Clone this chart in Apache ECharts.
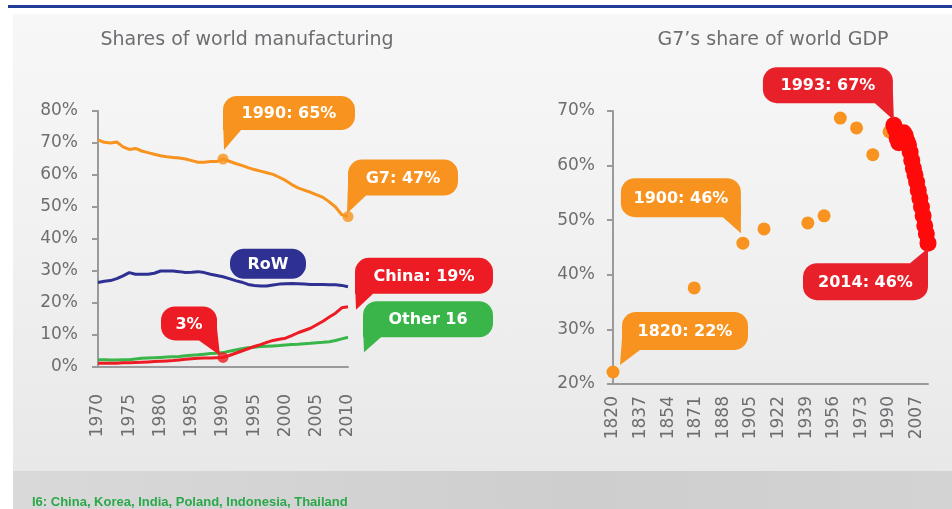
<!DOCTYPE html>
<html><head><meta charset="utf-8">
<script src="https://cdn.jsdelivr.net/npm/echarts@6/dist/echarts.min.js"></script>
<style>
html,body{margin:0;padding:0;background:#fff;}
#wrap{position:relative;width:952px;height:509px;overflow:hidden;background:#fff;}
#topline{position:absolute;left:8px;top:5px;width:944px;height:3px;background:#1f3d96;}
#panel{position:absolute;left:13px;top:14px;right:0;height:457px;background:linear-gradient(to bottom,#f7f7f7 0%,#f1f1f1 50%,#e8e8e8 100%);}
#band{position:absolute;left:13px;top:471px;right:0;bottom:0;background:linear-gradient(to right,#d9d9d9,#cecece 60%,#d3d3d3);}
#c{position:absolute;left:0;top:0;width:952px;height:509px;}
</style>
</head><body>
<div id="wrap"><div id="topline"></div><div id="panel"></div><div id="band"></div><div id="c"></div></div>
<script>
// ---- Data: shares of world manufacturing (%) ----
const mfgYears = [1970,1971,1972,1973,1974,1975,1976,1977,1978,1979,1980,1981,1982,1983,1984,1985,1986,1987,1988,1989,1990,1991,1992,1993,1994,1995,1996,1997,1998,1999,2000,2001,2002,2003,2004,2005,2006,2007,2008,2009,2010];
const g7Share = [71.0,70.2,70.0,70.3,68.8,68.0,68.3,67.5,67.0,66.5,66.0,65.7,65.5,65.3,65.0,64.5,64.0,64.0,64.2,64.2,65.0,64.3,63.6,63.0,62.3,61.7,61.2,60.7,60.2,59.3,58.3,57.0,56.0,55.3,54.6,53.8,53.0,51.6,50.0,47.6,47.0];
const rowShare = [26.4,26.8,27.0,27.6,28.5,29.5,29.0,29.0,29.0,29.3,30.0,30.0,30.0,29.8,29.5,29.6,29.8,29.5,29.0,28.6,28.2,27.6,27.0,26.5,25.8,25.5,25.3,25.3,25.6,25.9,26.0,26.1,26.0,25.9,25.8,25.8,25.8,25.7,25.7,25.5,25.1];
const chinaShare = [1.2,1.2,1.2,1.2,1.3,1.3,1.4,1.5,1.6,1.7,1.8,1.9,2.0,2.2,2.4,2.6,2.7,2.8,2.8,2.9,3.0,3.6,4.3,5.0,5.7,6.4,7.0,7.7,8.3,8.7,9.0,9.8,10.7,11.4,12.1,13.2,14.3,15.6,16.8,18.5,18.8];
const other16Share = [2.3,2.3,2.2,2.2,2.3,2.3,2.5,2.7,2.8,2.9,3.0,3.1,3.2,3.3,3.5,3.7,3.8,4.0,4.2,4.3,4.5,4.9,5.3,5.7,6.0,6.2,6.4,6.5,6.6,6.7,6.9,7.0,7.1,7.3,7.4,7.6,7.7,7.9,8.3,8.8,9.3];
const mfgYTicks = [0,10,20,30,40,50,60,70,80];

// ---- Data: G7 share of world GDP (%) ----
const gdpYears = [1820,1870,1900,1913,1940,1950,1960,1970,1980,1990];
const gdpShare = [22.2,37.6,45.8,48.4,49.5,50.8,68.7,66.9,62.0,66.2];
const gdpRecentYears = [1993,1994,1995,1996,1997,1998,1999,2000,2001,2002,2003,2004,2005,2006,2007,2008,2009,2010,2011,2012,2013,2014];
const gdpRecentShare = [67.4,66.5,65.0,64.2,64.5,65.5,66.0,65.5,64.5,63.8,62.5,61.0,59.5,58.3,57.0,55.5,54.0,52.4,50.8,49.0,47.5,45.8];
const gdpTickYears = [1820,1837,1854,1871,1888,1905,1922,1939,1956,1973,1990,2007];

const ORANGE = '#F7931E', RED = '#ED1C24', NAVY = '#2E3192', GREEN = '#39B54A', BRIGHTRED = '#FF0A0A';
const FONT = '"DejaVu Sans", Verdana, sans-serif';
const GREY = '#6d6e71';

const pair = (xs, ys) => xs.map((x, i) => [x, ys[i]]);
const at = (xs, ys, x) => [x, ys[xs.indexOf(x)]];

const chart = echarts.init(document.getElementById('c'), null, {renderer: 'canvas'});

const axisLabelStyle = {color: GREY, fontSize: 17, fontFamily: FONT};
const axisLineStyle = {show: true, lineStyle: {color: '#9a9a9a', width: 2}};

chart.setOption({
  animation: false,
  backgroundColor: 'transparent',
  grid: [
    {left: 98, top: 111, width: 250, height: 256},
    {left: 613, top: 111, width: 315, height: 273}
  ],
  xAxis: [
    {gridIndex: 0, type: 'value', min: 1970, max: 2010, interval: 5,
     axisLine: axisLineStyle, axisTick: {show: false}, splitLine: {show: false},
     axisLabel: Object.assign({rotate: 90, margin: 27, formatter: v => String(v)}, axisLabelStyle)},
    {gridIndex: 1, type: 'value', min: 1820, max: 2014,
     axisLine: axisLineStyle, axisTick: {show: false}, splitLine: {show: false},
     axisLabel: Object.assign({rotate: 90, margin: 12, customValues: gdpTickYears, formatter: v => String(v)}, axisLabelStyle)}
  ],
  yAxis: [
    {gridIndex: 0, type: 'value', min: mfgYTicks[0], max: mfgYTicks[mfgYTicks.length-1], interval: 10,
     axisLine: axisLineStyle, axisTick: {show: true, length: 6, lineStyle: {color: '#9a9a9a', width: 2}},
     splitLine: {show: false},
     axisLabel: Object.assign({margin: 20, formatter: '{value}%'}, axisLabelStyle)},
    {gridIndex: 1, type: 'value', min: 20, max: 70, interval: 10,
     axisLine: axisLineStyle, axisTick: {show: true, length: 6, lineStyle: {color: '#9a9a9a', width: 2}},
     splitLine: {show: false},
     axisLabel: Object.assign({margin: 18, formatter: '{value}%'}, axisLabelStyle)}
  ],
  series: [
    {name: 'G7', type: 'line', xAxisIndex: 0, yAxisIndex: 0, data: pair(mfgYears, g7Share),
     symbol: 'none', lineStyle: {color: ORANGE, width: 3}, itemStyle: {color: ORANGE}},
    {name: 'RoW', type: 'line', xAxisIndex: 0, yAxisIndex: 0, data: pair(mfgYears, rowShare),
     symbol: 'none', lineStyle: {color: NAVY, width: 3}, itemStyle: {color: NAVY}},
    {name: 'Other 16', type: 'line', xAxisIndex: 0, yAxisIndex: 0, data: pair(mfgYears, other16Share),
     symbol: 'none', lineStyle: {color: GREEN, width: 3}, itemStyle: {color: GREEN}},
    {name: 'China', type: 'line', xAxisIndex: 0, yAxisIndex: 0, data: pair(mfgYears, chinaShare),
     symbol: 'none', lineStyle: {color: RED, width: 3}, itemStyle: {color: RED}},
    {name: 'highlights', type: 'scatter', xAxisIndex: 0, yAxisIndex: 0, symbolSize: 11, z: 5,
     data: [
       {value: at(mfgYears, g7Share, 1990), itemStyle: {color: ORANGE}},
       {value: at(mfgYears, g7Share, 2010), itemStyle: {color: ORANGE}},
       {value: at(mfgYears, chinaShare, 1990), itemStyle: {color: RED}}
     ]},
    {name: 'GDP', type: 'scatter', xAxisIndex: 1, yAxisIndex: 1, symbolSize: 13,
     data: pair(gdpYears, gdpShare), itemStyle: {color: ORANGE, opacity: 1}},
    {name: 'GDP recent', type: 'scatter', xAxisIndex: 1, yAxisIndex: 1, symbolSize: 17, z: 4,
     data: pair(gdpRecentYears, gdpRecentShare), itemStyle: {color: BRIGHTRED, opacity: 1}}
  ]
});

// ---- callouts anchored to data points ----
function px(grid, pt) { return chart.convertToPixel({gridIndex: grid}, pt); }

function bubble(pt, o) {
  const bx = pt[0] + o.dx, by = pt[1] + o.dy, w = o.w, h = o.h, r = o.r || 14;
  let radius = [r, r, r, r], poly = null;
  const tip = [pt[0] + (o.tx || 0), pt[1] + (o.ty || 0)];
  if (o.tail === 'bl') { radius = [r, r, r, 0]; poly = [[bx, by + h - 12], tip, [bx + 18, by + h]]; }
  if (o.tail === 'br') { radius = [r, r, 0, r]; poly = [[bx + w, by + h - 12], tip, [bx + w - 18, by + h]]; }
  if (o.tail === 'tr') { radius = [r, 0, r, r]; poly = [[bx + w, by + 12], tip, [bx + w - 18, by]]; }
  const els = [{type: 'rect', z: 10, shape: {x: bx, y: by, width: w, height: h, r: radius}, style: {fill: o.color}}];
  if (poly) els.push({type: 'polygon', z: 10, shape: {points: poly}, style: {fill: o.color}});
  els.push({type: 'text', z: 11, x: bx + w / 2, y: by + h / 2 + 1,
    style: {text: o.text, fill: '#fff', fontSize: 16, fontWeight: 'bold', fontFamily: FONT,
            align: 'center', verticalAlign: 'middle', textAlign: 'center', textVerticalAlign: 'middle'}});
  return els;
}

const g = [];
g.push({type: 'text', x: 247, y: 40, style: {text: 'Shares of world manufacturing', fill: GREY, fontSize: 19, fontFamily: FONT,
  align: 'center', verticalAlign: 'middle', textAlign: 'center', textVerticalAlign: 'middle'}});
g.push({type: 'text', x: 773, y: 40, style: {text: 'G7\u2019s share of world GDP', fill: GREY, fontSize: 19, fontFamily: FONT,
  align: 'center', verticalAlign: 'middle', textAlign: 'center', textVerticalAlign: 'middle'}});
g.push({type: 'text', x: 32, y: 502, style: {text: 'I6: China, Korea, India, Poland, Indonesia, Thailand', fill: '#2aa84a',
  fontSize: 13, fontWeight: 'bold', fontFamily: '"Liberation Sans Narrow", "Arial Narrow", "Liberation Sans", sans-serif',
  align: 'left', verticalAlign: 'middle', textAlign: 'left', textVerticalAlign: 'middle'}});

g.push(...bubble(px(0, at(mfgYears, g7Share, 1990)), {dx: 0, dy: -63, w: 132, h: 34, tail: 'bl', tx: 1, ty: -9, color: ORANGE, text: '1990: 65%'}));
g.push(...bubble(px(0, at(mfgYears, g7Share, 2010)), {dx: 0, dy: -57, w: 110, h: 36, tail: 'bl', tx: -1, ty: -3, color: ORANGE, text: 'G7: 47%'}));
g.push(...bubble(px(0, at(mfgYears, rowShare, 1990)), {dx: 7, dy: -28, w: 76, h: 30, r: 14, color: NAVY, text: 'RoW'}));
g.push(...bubble(px(0, at(mfgYears, chinaShare, 2010)), {dx: 7, dy: -49, w: 138, h: 36, tail: 'bl', tx: 8, ty: 3, color: RED, text: 'China: 19%'}));
g.push(...bubble(px(0, at(mfgYears, other16Share, 2010)), {dx: 15, dy: -36, w: 130, h: 36, tail: 'bl', tx: 16, ty: 15, color: GREEN, text: 'Other 16'}));
g.push(...bubble(px(0, at(mfgYears, chinaShare, 1990)), {dx: -62, dy: -51, w: 56, h: 34, tail: 'br', tx: -3, ty: -2, color: RED, text: '3%'}));

g.push(...bubble(px(1, [1993, gdpRecentShare[0]]), {dx: -131, dy: -58, w: 130, h: 36, tail: 'br', tx: 0, ty: -5, color: '#E8202A', text: '1993: 67%'}));
g.push(...bubble(px(1, at(gdpYears, gdpShare, 1900)), {dx: -122, dy: -65, w: 120, h: 39, tail: 'br', tx: -2, ty: -10, color: ORANGE, text: '1900: 46%'}));
g.push(...bubble(px(1, at(gdpYears, gdpShare, 1820)), {dx: 9, dy: -60, w: 126, h: 38, tail: 'bl', tx: 7, ty: -7, color: ORANGE, text: '1820: 22%'}));
g.push(...bubble(px(1, [2014, gdpRecentShare[gdpRecentShare.length - 1]]), {dx: -125, dy: 20, w: 125, h: 37, tail: 'tr', tx: 0, ty: 5, color: '#E8202A', text: '2014: 46%'}));

chart.setOption({graphic: {elements: g}});
</script>
</body></html>
